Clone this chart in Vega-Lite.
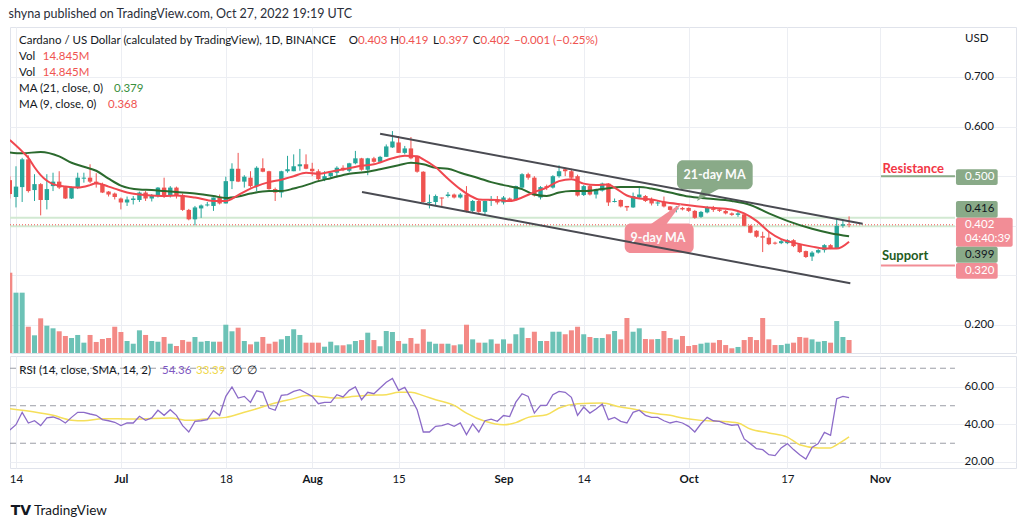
{
"$schema": "https://vega.github.io/schema/vega-lite/v6.json",
"background": "white",
"padding": {"left": 8, "top": 8, "right": 10, "bottom": 4},
"title": {"text": "shyna published on TradingView.com, Oct 27, 2022 19:19 UTC", "anchor": "start", "fontSize": 12.5, "fontWeight": "normal", "color": "#2a2e39", "offset": 6},
"spacing": 1,
"config": {"font": "Lato", "view": {"stroke": "#e0e3eb"}},
"datasets": {
"candles": [
{"d":"2022-06-13","o":0.492,"h":0.5,"l":0.455,"c":0.464,"v":91.7},
{"d":"2022-06-14","o":0.458,"h":0.52,"l":0.437,"c":0.479,"v":68.9},
{"d":"2022-06-15","o":0.478,"h":0.537,"l":0.448,"c":0.534,"v":68.9},
{"d":"2022-06-16","o":0.534,"h":0.542,"l":0.467,"c":0.47,"v":30.0},
{"d":"2022-06-17","o":0.472,"h":0.504,"l":0.45,"c":0.484,"v":20.2},
{"d":"2022-06-18","o":0.484,"h":0.486,"l":0.421,"c":0.452,"v":39.6},
{"d":"2022-06-19","o":0.452,"h":0.504,"l":0.433,"c":0.474,"v":31.2},
{"d":"2022-06-20","o":0.48,"h":0.507,"l":0.47,"c":0.489,"v":28.2},
{"d":"2022-06-21","o":0.489,"h":0.51,"l":0.474,"c":0.477,"v":24.8},
{"d":"2022-06-22","o":0.478,"h":0.479,"l":0.454,"c":0.455,"v":19.4},
{"d":"2022-06-23","o":0.455,"h":0.479,"l":0.454,"c":0.478,"v":17.1},
{"d":"2022-06-24","o":0.477,"h":0.507,"l":0.474,"c":0.497,"v":20.6},
{"d":"2022-06-25","o":0.495,"h":0.507,"l":0.487,"c":0.497,"v":11.8},
{"d":"2022-06-26","o":0.497,"h":0.524,"l":0.486,"c":0.489,"v":20.6},
{"d":"2022-06-27","o":0.489,"h":0.506,"l":0.477,"c":0.484,"v":12.6},
{"d":"2022-06-28","o":0.484,"h":0.487,"l":0.466,"c":0.467,"v":16.0},
{"d":"2022-06-29","o":0.469,"h":0.47,"l":0.459,"c":0.463,"v":17.1},
{"d":"2022-06-30","o":0.465,"h":0.467,"l":0.453,"c":0.458,"v":30.0},
{"d":"2022-07-01","o":0.455,"h":0.457,"l":0.433,"c":0.447,"v":24.0},
{"d":"2022-07-02","o":0.447,"h":0.459,"l":0.44,"c":0.453,"v":13.7},
{"d":"2022-07-03","o":0.452,"h":0.46,"l":0.443,"c":0.455,"v":10.6},
{"d":"2022-07-04","o":0.452,"h":0.469,"l":0.448,"c":0.467,"v":25.9},
{"d":"2022-07-05","o":0.467,"h":0.47,"l":0.45,"c":0.455,"v":20.6},
{"d":"2022-07-06","o":0.455,"h":0.464,"l":0.449,"c":0.462,"v":13.7},
{"d":"2022-07-07","o":0.46,"h":0.478,"l":0.457,"c":0.477,"v":12.9},
{"d":"2022-07-08","o":0.477,"h":0.497,"l":0.456,"c":0.46,"v":18.3},
{"d":"2022-07-09","o":0.46,"h":0.48,"l":0.457,"c":0.477,"v":10.6},
{"d":"2022-07-10","o":0.477,"h":0.479,"l":0.455,"c":0.46,"v":8.0},
{"d":"2022-07-11","o":0.462,"h":0.465,"l":0.43,"c":0.432,"v":14.8},
{"d":"2022-07-12","o":0.432,"h":0.434,"l":0.411,"c":0.413,"v":12.9},
{"d":"2022-07-13","o":0.413,"h":0.44,"l":0.401,"c":0.437,"v":18.3},
{"d":"2022-07-14","o":0.435,"h":0.443,"l":0.416,"c":0.441,"v":12.9},
{"d":"2022-07-15","o":0.441,"h":0.448,"l":0.439,"c":0.443,"v":13.7},
{"d":"2022-07-16","o":0.44,"h":0.457,"l":0.43,"c":0.457,"v":12.9},
{"d":"2022-07-17","o":0.457,"h":0.463,"l":0.443,"c":0.445,"v":12.9},
{"d":"2022-07-18","o":0.445,"h":0.499,"l":0.445,"c":0.49,"v":32.3},
{"d":"2022-07-19","o":0.49,"h":0.526,"l":0.474,"c":0.515,"v":24.8},
{"d":"2022-07-20","o":0.515,"h":0.547,"l":0.488,"c":0.489,"v":28.9},
{"d":"2022-07-21","o":0.489,"h":0.502,"l":0.477,"c":0.499,"v":13.7},
{"d":"2022-07-22","o":0.497,"h":0.51,"l":0.477,"c":0.48,"v":9.9},
{"d":"2022-07-23","o":0.48,"h":0.52,"l":0.47,"c":0.517,"v":12.9},
{"d":"2022-07-24","o":0.516,"h":0.536,"l":0.508,"c":0.509,"v":18.3},
{"d":"2022-07-25","o":0.51,"h":0.511,"l":0.473,"c":0.474,"v":10.6},
{"d":"2022-07-26","o":0.474,"h":0.477,"l":0.45,"c":0.467,"v":12.9},
{"d":"2022-07-27","o":0.467,"h":0.511,"l":0.457,"c":0.51,"v":15.6},
{"d":"2022-07-28","o":0.51,"h":0.541,"l":0.507,"c":0.514,"v":19.4},
{"d":"2022-07-29","o":0.51,"h":0.544,"l":0.51,"c":0.52,"v":27.1},
{"d":"2022-07-30","o":0.52,"h":0.555,"l":0.511,"c":0.524,"v":20.6},
{"d":"2022-07-31","o":0.524,"h":0.544,"l":0.514,"c":0.515,"v":11.8},
{"d":"2022-08-01","o":0.515,"h":0.527,"l":0.5,"c":0.51,"v":11.8},
{"d":"2022-08-02","o":0.51,"h":0.514,"l":0.49,"c":0.494,"v":11.8},
{"d":"2022-08-03","o":0.494,"h":0.51,"l":0.49,"c":0.5,"v":7.2},
{"d":"2022-08-04","o":0.5,"h":0.51,"l":0.497,"c":0.507,"v":12.9},
{"d":"2022-08-05","o":0.507,"h":0.52,"l":0.497,"c":0.517,"v":8.8},
{"d":"2022-08-06","o":0.517,"h":0.522,"l":0.51,"c":0.512,"v":8.8},
{"d":"2022-08-07","o":0.511,"h":0.527,"l":0.508,"c":0.526,"v":9.9},
{"d":"2022-08-08","o":0.526,"h":0.551,"l":0.524,"c":0.536,"v":13.7},
{"d":"2022-08-09","o":0.536,"h":0.537,"l":0.511,"c":0.513,"v":14.8},
{"d":"2022-08-10","o":0.513,"h":0.537,"l":0.502,"c":0.536,"v":23.2},
{"d":"2022-08-11","o":0.536,"h":0.539,"l":0.527,"c":0.529,"v":14.8},
{"d":"2022-08-12","o":0.529,"h":0.541,"l":0.527,"c":0.539,"v":7.7},
{"d":"2022-08-13","o":0.539,"h":0.564,"l":0.539,"c":0.56,"v":25.1},
{"d":"2022-08-14","o":0.558,"h":0.591,"l":0.557,"c":0.57,"v":24.0},
{"d":"2022-08-15","o":0.568,"h":0.581,"l":0.547,"c":0.547,"v":13.7},
{"d":"2022-08-16","o":0.547,"h":0.561,"l":0.544,"c":0.556,"v":10.6},
{"d":"2022-08-17","o":0.556,"h":0.579,"l":0.534,"c":0.536,"v":17.1},
{"d":"2022-08-18","o":0.539,"h":0.541,"l":0.507,"c":0.509,"v":10.6},
{"d":"2022-08-19","o":0.509,"h":0.51,"l":0.447,"c":0.448,"v":27.1},
{"d":"2022-08-20","o":0.446,"h":0.463,"l":0.435,"c":0.448,"v":12.9},
{"d":"2022-08-21","o":0.448,"h":0.463,"l":0.44,"c":0.46,"v":10.6},
{"d":"2022-08-22","o":0.457,"h":0.457,"l":0.44,"c":0.455,"v":10.6},
{"d":"2022-08-23","o":0.46,"h":0.468,"l":0.457,"c":0.463,"v":10.6},
{"d":"2022-08-24","o":0.463,"h":0.465,"l":0.455,"c":0.457,"v":8.8},
{"d":"2022-08-25","o":0.457,"h":0.466,"l":0.455,"c":0.463,"v":9.9},
{"d":"2022-08-26","o":0.463,"h":0.48,"l":0.427,"c":0.43,"v":32.3},
{"d":"2022-08-27","o":0.43,"h":0.452,"l":0.428,"c":0.45,"v":15.6},
{"d":"2022-08-28","o":0.45,"h":0.452,"l":0.426,"c":0.428,"v":11.8},
{"d":"2022-08-29","o":0.428,"h":0.451,"l":0.423,"c":0.45,"v":11.8},
{"d":"2022-08-30","o":0.45,"h":0.46,"l":0.44,"c":0.452,"v":15.6},
{"d":"2022-08-31","o":0.453,"h":0.46,"l":0.443,"c":0.447,"v":10.6},
{"d":"2022-09-01","o":0.447,"h":0.46,"l":0.443,"c":0.457,"v":15.6},
{"d":"2022-09-02","o":0.455,"h":0.457,"l":0.449,"c":0.452,"v":10.6},
{"d":"2022-09-03","o":0.452,"h":0.481,"l":0.451,"c":0.48,"v":21.4},
{"d":"2022-09-04","o":0.477,"h":0.506,"l":0.474,"c":0.504,"v":28.9},
{"d":"2022-09-05","o":0.504,"h":0.507,"l":0.493,"c":0.497,"v":17.1},
{"d":"2022-09-06","o":0.497,"h":0.5,"l":0.459,"c":0.461,"v":24.3},
{"d":"2022-09-07","o":0.457,"h":0.48,"l":0.453,"c":0.478,"v":13.7},
{"d":"2022-09-08","o":0.48,"h":0.483,"l":0.472,"c":0.477,"v":13.7},
{"d":"2022-09-09","o":0.477,"h":0.502,"l":0.475,"c":0.5,"v":24.3},
{"d":"2022-09-10","o":0.5,"h":0.522,"l":0.497,"c":0.51,"v":24.3},
{"d":"2022-09-11","o":0.514,"h":0.517,"l":0.5,"c":0.51,"v":21.4},
{"d":"2022-09-12","o":0.51,"h":0.515,"l":0.495,"c":0.497,"v":25.9},
{"d":"2022-09-13","o":0.5,"h":0.503,"l":0.459,"c":0.461,"v":30.0},
{"d":"2022-09-14","o":0.462,"h":0.482,"l":0.46,"c":0.48,"v":21.4},
{"d":"2022-09-15","o":0.48,"h":0.482,"l":0.461,"c":0.463,"v":18.3},
{"d":"2022-09-16","o":0.463,"h":0.475,"l":0.455,"c":0.474,"v":17.1},
{"d":"2022-09-17","o":0.471,"h":0.487,"l":0.469,"c":0.485,"v":17.1},
{"d":"2022-09-18","o":0.485,"h":0.486,"l":0.44,"c":0.447,"v":21.4},
{"d":"2022-09-19","o":0.448,"h":0.455,"l":0.447,"c":0.45,"v":25.1},
{"d":"2022-09-20","o":0.452,"h":0.453,"l":0.437,"c":0.439,"v":15.6},
{"d":"2022-09-21","o":0.44,"h":0.44,"l":0.43,"c":0.437,"v":40.0},
{"d":"2022-09-22","o":0.437,"h":0.467,"l":0.436,"c":0.46,"v":24.3},
{"d":"2022-09-23","o":0.457,"h":0.478,"l":0.455,"c":0.463,"v":28.2},
{"d":"2022-09-24","o":0.46,"h":0.462,"l":0.448,"c":0.45,"v":16.0},
{"d":"2022-09-25","o":0.452,"h":0.457,"l":0.441,"c":0.445,"v":15.6},
{"d":"2022-09-26","o":0.445,"h":0.45,"l":0.44,"c":0.447,"v":16.0},
{"d":"2022-09-27","o":0.448,"h":0.459,"l":0.437,"c":0.439,"v":25.1},
{"d":"2022-09-28","o":0.439,"h":0.44,"l":0.428,"c":0.432,"v":17.1},
{"d":"2022-09-29","o":0.433,"h":0.44,"l":0.427,"c":0.436,"v":15.4},
{"d":"2022-09-30","o":0.436,"h":0.438,"l":0.431,"c":0.433,"v":19.4},
{"d":"2022-10-01","o":0.436,"h":0.437,"l":0.428,"c":0.43,"v":8.0},
{"d":"2022-10-02","o":0.43,"h":0.432,"l":0.414,"c":0.416,"v":9.1},
{"d":"2022-10-03","o":0.418,"h":0.43,"l":0.416,"c":0.428,"v":10.6},
{"d":"2022-10-04","o":0.427,"h":0.44,"l":0.425,"c":0.437,"v":11.8},
{"d":"2022-10-05","o":0.435,"h":0.44,"l":0.428,"c":0.432,"v":11.8},
{"d":"2022-10-06","o":0.433,"h":0.436,"l":0.428,"c":0.43,"v":14.8},
{"d":"2022-10-07","o":0.43,"h":0.432,"l":0.423,"c":0.425,"v":9.1},
{"d":"2022-10-08","o":0.425,"h":0.427,"l":0.42,"c":0.422,"v":5.4},
{"d":"2022-10-09","o":0.422,"h":0.428,"l":0.418,"c":0.425,"v":6.9},
{"d":"2022-10-10","o":0.423,"h":0.425,"l":0.399,"c":0.4,"v":14.8},
{"d":"2022-10-11","o":0.4,"h":0.402,"l":0.385,"c":0.386,"v":18.3},
{"d":"2022-10-12","o":0.39,"h":0.391,"l":0.376,"c":0.378,"v":14.8},
{"d":"2022-10-13","o":0.379,"h":0.388,"l":0.347,"c":0.376,"v":40.0},
{"d":"2022-10-14","o":0.376,"h":0.388,"l":0.361,"c":0.363,"v":15.6},
{"d":"2022-10-15","o":0.366,"h":0.368,"l":0.362,"c":0.364,"v":9.1},
{"d":"2022-10-16","o":0.365,"h":0.373,"l":0.363,"c":0.369,"v":9.1},
{"d":"2022-10-17","o":0.365,"h":0.373,"l":0.363,"c":0.371,"v":10.6},
{"d":"2022-10-18","o":0.371,"h":0.373,"l":0.357,"c":0.359,"v":11.8},
{"d":"2022-10-19","o":0.363,"h":0.364,"l":0.345,"c":0.347,"v":18.3},
{"d":"2022-10-20","o":0.349,"h":0.35,"l":0.335,"c":0.337,"v":17.5},
{"d":"2022-10-21","o":0.338,"h":0.349,"l":0.329,"c":0.346,"v":15.6},
{"d":"2022-10-22","o":0.346,"h":0.353,"l":0.344,"c":0.351,"v":12.9},
{"d":"2022-10-23","o":0.351,"h":0.363,"l":0.346,"c":0.361,"v":13.7},
{"d":"2022-10-24","o":0.361,"h":0.363,"l":0.353,"c":0.355,"v":11.8},
{"d":"2022-10-25","o":0.355,"h":0.413,"l":0.354,"c":0.4,"v":36.5},
{"d":"2022-10-26","o":0.4,"h":0.412,"l":0.396,"c":0.403,"v":18.3},
{"d":"2022-10-27","o":0.403,"h":0.419,"l":0.397,"c":0.402,"v":14.845}
],
"ma9": [
{"d":"2022-06-13","p":0.573},{"d":"2022-06-15","p":0.55},{"d":"2022-06-16","p":0.537},{"d":"2022-06-17","p":0.518},{"d":"2022-06-18","p":0.502},{"d":"2022-06-20","p":0.484},{"d":"2022-06-22","p":0.479},{"d":"2022-06-24","p":0.477},{"d":"2022-06-26","p":0.482},{"d":"2022-06-27","p":0.486},{"d":"2022-06-29","p":0.479},{"d":"2022-06-30","p":0.475},{"d":"2022-07-02","p":0.467},{"d":"2022-07-04","p":0.463},{"d":"2022-07-06","p":0.461},{"d":"2022-07-08","p":0.46},{"d":"2022-07-10","p":0.461},{"d":"2022-07-13","p":0.457},{"d":"2022-07-16","p":0.45},{"d":"2022-07-18","p":0.45},{"d":"2022-07-20","p":0.462},{"d":"2022-07-22","p":0.475},{"d":"2022-07-25","p":0.488},{"d":"2022-07-27","p":0.493},{"d":"2022-07-29","p":0.5},{"d":"2022-07-31","p":0.507},{"d":"2022-08-02","p":0.505},{"d":"2022-08-04","p":0.509},{"d":"2022-08-07","p":0.516},{"d":"2022-08-09","p":0.521},{"d":"2022-08-11","p":0.524},{"d":"2022-08-14","p":0.536},{"d":"2022-08-16","p":0.541},{"d":"2022-08-18","p":0.54},{"d":"2022-08-19","p":0.534},{"d":"2022-08-21","p":0.518},{"d":"2022-08-23","p":0.495},{"d":"2022-08-25","p":0.474},{"d":"2022-08-27","p":0.458},{"d":"2022-08-28","p":0.453},{"d":"2022-08-31","p":0.452},{"d":"2022-09-02","p":0.45},{"d":"2022-09-04","p":0.457},{"d":"2022-09-06","p":0.468},{"d":"2022-09-08","p":0.477},{"d":"2022-09-10","p":0.49},{"d":"2022-09-12","p":0.494},{"d":"2022-09-14","p":0.485},{"d":"2022-09-16","p":0.482},{"d":"2022-09-18","p":0.483},{"d":"2022-09-19","p":0.477},{"d":"2022-09-21","p":0.461},{"d":"2022-09-23","p":0.455},{"d":"2022-09-25","p":0.453},{"d":"2022-09-27","p":0.448},{"d":"2022-09-30","p":0.443},{"d":"2022-10-02","p":0.44},{"d":"2022-10-04","p":0.437},{"d":"2022-10-08","p":0.433},{"d":"2022-10-10","p":0.425},{"d":"2022-10-12","p":0.41},{"d":"2022-10-14","p":0.388},{"d":"2022-10-16","p":0.373},{"d":"2022-10-18","p":0.366},{"d":"2022-10-21","p":0.358},{"d":"2022-10-23","p":0.354},{"d":"2022-10-25","p":0.354},{"d":"2022-10-27","p":0.368}
],
"ma21": [
{"d":"2022-06-13","p":0.548},{"d":"2022-06-15","p":0.546},{"d":"2022-06-18","p":0.549},{"d":"2022-06-21","p":0.54},{"d":"2022-06-23","p":0.527},{"d":"2022-06-25","p":0.519},{"d":"2022-06-27","p":0.511},{"d":"2022-06-29","p":0.495},{"d":"2022-07-01","p":0.481},{"d":"2022-07-04","p":0.473},{"d":"2022-07-06","p":0.472},{"d":"2022-07-08","p":0.47},{"d":"2022-07-10","p":0.468},{"d":"2022-07-13","p":0.465},{"d":"2022-07-16","p":0.46},{"d":"2022-07-18","p":0.456},{"d":"2022-07-20","p":0.459},{"d":"2022-07-22","p":0.465},{"d":"2022-07-25","p":0.47},{"d":"2022-07-27","p":0.47},{"d":"2022-07-29","p":0.475},{"d":"2022-07-31","p":0.482},{"d":"2022-08-02","p":0.49},{"d":"2022-08-04","p":0.496},{"d":"2022-08-07","p":0.505},{"d":"2022-08-10","p":0.509},{"d":"2022-08-12","p":0.514},{"d":"2022-08-15","p":0.522},{"d":"2022-08-17","p":0.527},{"d":"2022-08-19","p":0.524},{"d":"2022-08-21","p":0.517},{"d":"2022-08-23","p":0.515},{"d":"2022-08-25","p":0.507},{"d":"2022-08-28","p":0.496},{"d":"2022-08-30","p":0.488},{"d":"2022-09-01","p":0.482},{"d":"2022-09-04","p":0.474},{"d":"2022-09-06","p":0.463},{"d":"2022-09-08","p":0.46},{"d":"2022-09-10","p":0.467},{"d":"2022-09-12","p":0.47},{"d":"2022-09-14","p":0.47},{"d":"2022-09-17","p":0.474},{"d":"2022-09-20","p":0.478},{"d":"2022-09-23","p":0.478},{"d":"2022-09-25","p":0.475},{"d":"2022-09-28","p":0.467},{"d":"2022-10-01","p":0.459},{"d":"2022-10-04","p":0.455},{"d":"2022-10-08","p":0.45},{"d":"2022-10-11","p":0.442},{"d":"2022-10-14","p":0.425},{"d":"2022-10-17","p":0.41},{"d":"2022-10-21","p":0.394},{"d":"2022-10-24","p":0.385},{"d":"2022-10-27","p":0.379}
],
"rsi": [
{"d":"2022-06-13","r":37.0},{"d":"2022-06-14","r":39.9},{"d":"2022-06-15","r":46.5},{"d":"2022-06-16","r":40.8},{"d":"2022-06-17","r":42.0},{"d":"2022-06-18","r":39.4},{"d":"2022-06-19","r":43.5},{"d":"2022-06-20","r":44.0},{"d":"2022-06-21","r":42.9},{"d":"2022-06-22","r":40.8},{"d":"2022-06-23","r":43.8},{"d":"2022-06-24","r":46.5},{"d":"2022-06-25","r":46.5},{"d":"2022-06-26","r":45.6},{"d":"2022-06-27","r":44.9},{"d":"2022-06-28","r":42.6},{"d":"2022-06-29","r":42.0},{"d":"2022-06-30","r":41.2},
{"d":"2022-07-01","r":39.4},{"d":"2022-07-02","r":40.8},{"d":"2022-07-03","r":40.8},{"d":"2022-07-04","r":44.4},{"d":"2022-07-05","r":42.2},{"d":"2022-07-06","r":43.5},{"d":"2022-07-07","r":47.6},{"d":"2022-07-08","r":44.9},{"d":"2022-07-09","r":47.9},{"d":"2022-07-10","r":44.9},{"d":"2022-07-11","r":39.4},{"d":"2022-07-12","r":36.0},{"d":"2022-07-13","r":41.7},{"d":"2022-07-14","r":42.0},{"d":"2022-07-15","r":42.6},{"d":"2022-07-16","r":47.4},{"d":"2022-07-17","r":44.9},{"d":"2022-07-18","r":55.0},{"d":"2022-07-19","r":60.0},{"d":"2022-07-20","r":54.1},{"d":"2022-07-21","r":55.0},{"d":"2022-07-22","r":51.8},{"d":"2022-07-23","r":58.0},{"d":"2022-07-24","r":57.2},{"d":"2022-07-25","r":48.8},{"d":"2022-07-26","r":47.6},{"d":"2022-07-27","r":55.5},{"d":"2022-07-28","r":55.9},{"d":"2022-07-29","r":57.7},{"d":"2022-07-30","r":58.6},{"d":"2022-07-31","r":56.8},
{"d":"2022-08-01","r":55.0},{"d":"2022-08-02","r":51.1},{"d":"2022-08-03","r":51.8},{"d":"2022-08-04","r":51.8},{"d":"2022-08-05","r":55.9},{"d":"2022-08-06","r":54.7},{"d":"2022-08-07","r":58.2},{"d":"2022-08-08","r":60.0},{"d":"2022-08-09","r":53.2},{"d":"2022-08-10","r":57.2},{"d":"2022-08-11","r":56.4},{"d":"2022-08-12","r":59.5},{"d":"2022-08-13","r":62.5},{"d":"2022-08-14","r":64.6},{"d":"2022-08-15","r":58.2},{"d":"2022-08-16","r":59.8},{"d":"2022-08-17","r":54.1},{"d":"2022-08-18","r":47.9},{"d":"2022-08-19","r":36.0},{"d":"2022-08-20","r":36.0},{"d":"2022-08-21","r":39.0},{"d":"2022-08-22","r":39.4},{"d":"2022-08-23","r":40.4},{"d":"2022-08-24","r":39.0},{"d":"2022-08-25","r":40.8},{"d":"2022-08-26","r":34.6},{"d":"2022-08-27","r":40.3},{"d":"2022-08-28","r":36.0},{"d":"2022-08-29","r":42.0},{"d":"2022-08-30","r":42.9},{"d":"2022-08-31","r":41.7},
{"d":"2022-09-01","r":44.8},{"d":"2022-09-02","r":44.2},{"d":"2022-09-03","r":51.9},{"d":"2022-09-04","r":56.4},{"d":"2022-09-05","r":55.0},{"d":"2022-09-06","r":46.1},{"d":"2022-09-07","r":50.2},{"d":"2022-09-08","r":50.2},{"d":"2022-09-09","r":55.9},{"d":"2022-09-10","r":57.7},{"d":"2022-09-11","r":57.2},{"d":"2022-09-12","r":54.5},{"d":"2022-09-13","r":44.9},{"d":"2022-09-14","r":49.3},{"d":"2022-09-15","r":46.1},{"d":"2022-09-16","r":48.3},{"d":"2022-09-17","r":50.9},{"d":"2022-09-18","r":42.6},{"d":"2022-09-19","r":43.8},{"d":"2022-09-20","r":41.7},{"d":"2022-09-21","r":40.8},{"d":"2022-09-22","r":46.5},{"d":"2022-09-23","r":47.6},{"d":"2022-09-24","r":44.9},{"d":"2022-09-25","r":43.8},{"d":"2022-09-26","r":43.8},{"d":"2022-09-27","r":42.0},{"d":"2022-09-28","r":40.8},{"d":"2022-09-29","r":41.7},{"d":"2022-09-30","r":40.8},
{"d":"2022-10-01","r":39.0},{"d":"2022-10-02","r":36.0},{"d":"2022-10-03","r":40.4},{"d":"2022-10-04","r":43.8},{"d":"2022-10-05","r":42.0},{"d":"2022-10-06","r":41.7},{"d":"2022-10-07","r":40.3},{"d":"2022-10-08","r":39.6},{"d":"2022-10-09","r":39.9},{"d":"2022-10-10","r":32.3},{"d":"2022-10-11","r":29.8},{"d":"2022-10-12","r":27.1},{"d":"2022-10-13","r":26.6},{"d":"2022-10-14","r":23.9},{"d":"2022-10-15","r":23.4},{"d":"2022-10-16","r":27.5},{"d":"2022-10-17","r":29.8},{"d":"2022-10-18","r":26.6},{"d":"2022-10-19","r":23.9},{"d":"2022-10-20","r":21.6},{"d":"2022-10-21","r":27.8},{"d":"2022-10-22","r":29.8},{"d":"2022-10-23","r":35.8},{"d":"2022-10-24","r":34.2},{"d":"2022-10-25","r":53.8},{"d":"2022-10-26","r":55.0},{"d":"2022-10-27","r":54.36}
],
"rsisma": [
{"d":"2022-06-13","r":48.4},{"d":"2022-06-17","r":46.7},{"d":"2022-06-20","r":44.9},{"d":"2022-06-23","r":42.3},{"d":"2022-06-25","r":42.0},{"d":"2022-06-28","r":43.1},{"d":"2022-07-03","r":42.9},{"d":"2022-07-09","r":43.5},{"d":"2022-07-12","r":42.2},{"d":"2022-07-15","r":43.1},{"d":"2022-07-18","r":43.8},{"d":"2022-07-21","r":46.5},{"d":"2022-07-23","r":48.4},{"d":"2022-07-26","r":51.5},{"d":"2022-07-29","r":53.8},{"d":"2022-07-31","r":55.4},{"d":"2022-08-05","r":54.1},{"d":"2022-08-07","r":54.7},{"d":"2022-08-10","r":55.6},{"d":"2022-08-13","r":55.9},{"d":"2022-08-15","r":57.2},{"d":"2022-08-17","r":57.2},{"d":"2022-08-19","r":55.4},{"d":"2022-08-21","r":53.2},{"d":"2022-08-24","r":50.2},{"d":"2022-08-26","r":46.1},{"d":"2022-08-29","r":41.7},{"d":"2022-09-01","r":39.8},{"d":"2022-09-03","r":41.0},{"d":"2022-09-05","r":43.8},{"d":"2022-09-08","r":45.2},{"d":"2022-09-10","r":48.8},{"d":"2022-09-13","r":51.1},{"d":"2022-09-17","r":51.5},{"d":"2022-09-20","r":49.3},{"d":"2022-09-22","r":48.3},{"d":"2022-09-25","r":46.1},{"d":"2022-09-28","r":44.9},{"d":"2022-09-30","r":43.5},{"d":"2022-10-03","r":42.2},{"d":"2022-10-06","r":41.7},{"d":"2022-10-09","r":40.8},{"d":"2022-10-11","r":37.6},{"d":"2022-10-14","r":35.5},{"d":"2022-10-17","r":33.3},{"d":"2022-10-19","r":29.2},{"d":"2022-10-22","r":27.5},{"d":"2022-10-24","r":27.5},{"d":"2022-10-25","r":29.2},{"d":"2022-10-27","r":33.39}
]
},
"vconcat": [
{
"width": 1006, "height": 326,
"layer": [
{
"data": {"name": "candles"},
"mark": {"type": "rule", "strokeWidth": 5, "clip": true},
"encoding": {
"x": {"field": "d", "type": "temporal", "title": null,
"scale": {"type": "utc", "nice": false, "domain": [{"year":2022,"month":6,"date":13,"hours":0,"minutes":40,"utc":true},{"year":2022,"month":11,"date":23,"hours":1,"minutes":12,"utc":true}]},
"axis": {"values": [{"year":2022,"month":6,"date":14,"utc":true},{"year":2022,"month":7,"date":1,"utc":true},{"year":2022,"month":7,"date":18,"utc":true},{"year":2022,"month":8,"date":1,"utc":true},{"year":2022,"month":8,"date":15,"utc":true},{"year":2022,"month":9,"date":1,"utc":true},{"year":2022,"month":9,"date":14,"utc":true},{"year":2022,"month":10,"date":1,"utc":true},{"year":2022,"month":10,"date":17,"utc":true},{"year":2022,"month":11,"date":1,"utc":true}],
"labels": false, "ticks": false, "domain": false, "grid": true, "gridColor": "#eceef3", "title": null}},
"y": {"field": "v", "type": "quantitative", "scale": {"domain": [0, 372.3], "nice": false, "zero": true}, "axis": null},
"y2": {"datum": 0},
"color": {"condition": {"test": "datum.c >= datum.o", "value": "#6cc2b6"}, "value": "#f38a86"}
}
},
{
"layer": [
{
"data": {"values": [{"lv": 0.416}, {"lv": 0.399}]},
"mark": {"type": "rule", "color": "#d2e9d2", "strokeWidth": 2},
"encoding": {
"x": {"datum": {"year":2022,"month":6,"date":13,"hours":0,"minutes":40,"utc":true}, "type": "temporal"},
"x2": {"datum": {"year":2022,"month":11,"date":13,"hours":3,"minutes":50,"utc":true}},
"y": {"field": "lv", "type": "quantitative", "title": null,
"scale": {"domain": [0.1435, 0.8008], "nice": false, "zero": false},
"axis": {"orient": "right", "offset": -61, "values": [0.2, 0.3, 0.4, 0.5, 0.6, 0.7], "labelExpr": "(datum.value > 0.25 && datum.value < 0.55) ? '' : format(datum.value, '.3f')", "grid": true, "gridColor": "#eceef3", "domain": false, "ticks": false, "labelPadding": 9, "labelFontSize": 11.5, "labelColor": "#131722", "labelFont": "Lato", "title": null}}
}
},
{
"data": {"values": [{"lv": 0.402}]},
"mark": {"type": "rule", "color": "#ef5350", "strokeWidth": 1, "strokeDash": [1, 2]},
"encoding": {
"x": {"datum": {"year":2022,"month":6,"date":13,"hours":0,"minutes":40,"utc":true}, "type": "temporal"},
"x2": {"datum": {"year":2022,"month":11,"date":13,"hours":3,"minutes":50,"utc":true}},
"y": {"field": "lv", "type": "quantitative"}
}
},
{
"data": {"name": "candles"},
"mark": {"type": "rule", "strokeWidth": 1, "clip": true},
"encoding": {
"x": {"field": "d", "type": "temporal"},
"y": {"field": "l", "type": "quantitative"},
"y2": {"field": "h"},
"color": {"condition": {"test": "datum.c >= datum.o", "value": "#26a69a"}, "value": "#ef5350"}
}
},
{
"data": {"name": "candles"},
"mark": {"type": "rule", "strokeWidth": 4.4, "clip": true},
"encoding": {
"x": {"field": "d", "type": "temporal"},
"y": {"field": "o", "type": "quantitative"},
"y2": {"field": "c"},
"color": {"condition": {"test": "datum.c >= datum.o", "value": "#26a69a"}, "value": "#ef5350"}
}
},
{
"data": {"name": "ma21"},
"mark": {"type": "line", "color": "#2b6a2e", "strokeWidth": 2, "interpolate": "monotone", "clip": true},
"encoding": {"x": {"field": "d", "type": "temporal"}, "y": {"field": "p", "type": "quantitative"}}
},
{
"data": {"name": "ma9"},
"mark": {"type": "line", "color": "#f0474f", "strokeWidth": 2, "interpolate": "monotone", "clip": true},
"encoding": {"x": {"field": "d", "type": "temporal"}, "y": {"field": "p", "type": "quantitative"}}
},
{
"data": {"values": [
{"k": "21", "d": "2022-09-29T02:40:00Z", "d2": "2022-10-11T09:07:00Z", "p": 0.5321, "p2": 0.4736},
{"k": "9", "d": "2022-09-20T15:22:00Z", "d2": "2022-10-01T19:41:00Z", "p": 0.4046, "p2": 0.3452}]},
"mark": {"type": "rect", "cornerRadius": 6},
"encoding": {
"x": {"field": "d", "type": "temporal"}, "x2": {"field": "d2"},
"y": {"field": "p", "type": "quantitative"}, "y2": {"field": "p2"},
"color": {"field": "k", "type": "nominal", "scale": {"domain": ["21", "9"], "range": ["#89aa88", "#f28d96"]}, "legend": null}
}
},
{
"data": {"values": [
{"d": "2022-10-02T08:38:00Z", "p": 0.45, "p2": 0.45},
{"d": "2022-10-03T04:05:00Z", "p": 0.4745, "p2": 0.4554},
{"d": "2022-10-05T22:20:00Z", "p": 0.4745, "p2": 0.4745}]},
"mark": {"type": "area", "color": "#89aa88", "opacity": 1},
"encoding": {"x": {"field": "d", "type": "temporal"}, "y": {"field": "p", "type": "quantitative"}, "y2": {"field": "p2"}}
},
{
"data": {"values": [
{"d": "2022-09-24T17:46:00Z", "p": 0.402, "p2": 0.402},
{"d": "2022-09-27T07:55:00Z", "p": 0.4248, "p2": 0.402},
{"d": "2022-09-29T22:19:00Z", "p": 0.446, "p2": 0.446}]},
"mark": {"type": "area", "color": "#f28d96", "opacity": 1},
"encoding": {"x": {"field": "d", "type": "temporal"}, "y": {"field": "p", "type": "quantitative"}, "y2": {"field": "p2"}}
},
{
"data": {"values": [
{"d": "2022-08-12T00:00:00Z", "p": 0.5857, "d2": "2022-10-29T04:48:00Z", "p2": 0.4042},
{"d": "2022-08-09T01:41:00Z", "p": 0.4681, "d2": "2022-10-27T04:48:00Z", "p2": 0.284}]},
"mark": {"type": "rule", "color": "#4a4b52", "strokeWidth": 2},
"encoding": {"x": {"field": "d", "type": "temporal"}, "x2": {"field": "d2"}, "y": {"field": "p", "type": "quantitative"}, "y2": {"field": "p2"}}
},
{
"data": {"values": [{"k": "resistance", "p": 0.5}, {"k": "support", "p": 0.32}]},
"mark": {"type": "rule", "strokeWidth": 2},
"encoding": {
"x": {"datum": {"year":2022,"month":11,"date":1,"hours":4,"utc":true}, "type": "temporal"},
"x2": {"datum": {"year":2022,"month":11,"date":13,"hours":3,"minutes":50,"utc":true}},
"y": {"field": "p", "type": "quantitative"},
"color": {"field": "k", "type": "nominal", "scale": {"domain": ["resistance", "support"], "range": ["#1f5b22", "#f23645"]}, "legend": null}
}
},
{
"data": {"values": [{"d": "2022-11-01T10:20:00Z", "p": 0.5139, "t": "Resistance"}]},
"mark": {"type": "text", "align": "left", "baseline": "middle", "fontSize": 13, "fontWeight": "bold", "color": "#f23645"},
"encoding": {"x": {"field": "d", "type": "temporal"}, "y": {"field": "p", "type": "quantitative"}, "text": {"field": "t"}}
},
{
"data": {"values": [{"d": "2022-11-01T08:00:00Z", "p": 0.3391, "t": "Support"}]},
"mark": {"type": "text", "align": "left", "baseline": "middle", "fontSize": 13, "fontWeight": "bold", "color": "#1f5b22"},
"encoding": {"x": {"field": "d", "type": "temporal"}, "y": {"field": "p", "type": "quantitative"}, "text": {"field": "t"}}
},
{
"data": {"values": [
{"d": "2022-10-05T04:34:00Z", "p": 0.5024, "t": "21-day MA"},
{"d": "2022-09-26T00:43:00Z", "p": 0.3754, "t": "9-day MA"}]},
"mark": {"type": "text", "align": "center", "baseline": "middle", "fontSize": 12.5, "fontWeight": "bold", "color": "#fbfbfb"},
"encoding": {"x": {"field": "d", "type": "temporal"}, "y": {"field": "p", "type": "quantitative"}, "text": {"field": "t"}}
},
{
"data": {"values": [
{"d": "2022-06-14T11:40:00Z", "p": 0.7726, "t": "Cardano / US Dollar (calculated by TradingView), 1D, BINANCE"},
{"d": "2022-06-14T11:40:00Z", "p": 0.7403, "t": "Vol"},
{"d": "2022-06-14T11:40:00Z", "p": 0.7081, "t": "Vol"},
{"d": "2022-06-14T11:40:00Z", "p": 0.6752, "t": "MA (21, close, 0)"},
{"d": "2022-06-14T11:40:00Z", "p": 0.6435, "t": "MA (9, close, 0)"},
{"d": "2022-11-14T18:43:00Z", "p": 0.776, "t": "USD"}]},
"mark": {"type": "text", "align": "left", "baseline": "middle", "fontSize": 11.5, "color": "#131722"},
"encoding": {"x": {"field": "d", "type": "temporal"}, "y": {"field": "p", "type": "quantitative"}, "text": {"field": "t"}}
},
{
"data": {"values": [
{"d": "2022-08-08T10:05:00Z", "p": 0.7726, "t": "O"},
{"d": "2022-08-15T01:26:00Z", "p": 0.7726, "t": "H"},
{"d": "2022-08-21T13:12:00Z", "p": 0.7726, "t": "L"},
{"d": "2022-08-28T06:29:00Z", "p": 0.7726, "t": "C"}]},
"mark": {"type": "text", "align": "right", "baseline": "middle", "fontSize": 11.5, "color": "#131722"},
"encoding": {"x": {"field": "d", "type": "temporal"}, "y": {"field": "p", "type": "quantitative"}, "text": {"field": "t"}}
},
{
"data": {"values": [
{"d": "2022-08-08T10:05:00Z", "p": 0.7726, "t": "0.403"},
{"d": "2022-08-15T01:26:00Z", "p": 0.7726, "t": "0.419"},
{"d": "2022-08-21T13:12:00Z", "p": 0.7726, "t": "0.397"},
{"d": "2022-08-28T06:29:00Z", "p": 0.7726, "t": "0.402"},
{"d": "2022-09-02T16:48:00Z", "p": 0.7726, "t": "−0.001 (−0.25%)"},
{"d": "2022-06-18T07:55:00Z", "p": 0.7403, "t": "14.845M"},
{"d": "2022-06-18T07:55:00Z", "p": 0.7081, "t": "14.845M"},
{"d": "2022-06-28T21:50:00Z", "p": 0.6435, "t": "0.368"}]},
"mark": {"type": "text", "align": "left", "baseline": "middle", "fontSize": 11.5, "color": "#ef5350"},
"encoding": {"x": {"field": "d", "type": "temporal"}, "y": {"field": "p", "type": "quantitative"}, "text": {"field": "t"}}
},
{
"data": {"values": [{"d": "2022-06-29T21:07:00Z", "p": 0.6752, "t": "0.379"}]},
"mark": {"type": "text", "align": "left", "baseline": "middle", "fontSize": 11.5, "color": "#388e3c"},
"encoding": {"x": {"field": "d", "type": "temporal"}, "y": {"field": "p", "type": "quantitative"}, "text": {"field": "t"}}
},
{
"data": {"values": [
{"k": "resistance", "d": "2022-11-13T07:44:00Z", "d2": "2022-11-20T01:55:00Z", "p": 0.5139, "p2": 0.4823},
{"k": "high", "d": "2022-11-13T07:44:00Z", "d2": "2022-11-20T01:55:00Z", "p": 0.45, "p2": 0.4163},
{"k": "last", "d": "2022-11-13T07:44:00Z", "d2": "2022-11-22T12:14:00Z", "p": 0.4163, "p2": 0.3579},
{"k": "low", "d": "2022-11-13T07:44:00Z", "d2": "2022-11-20T01:55:00Z", "p": 0.3579, "p2": 0.3256},
{"k": "support", "d": "2022-11-13T07:44:00Z", "d2": "2022-11-20T01:55:00Z", "p": 0.325, "p2": 0.2933}]},
"mark": {"type": "rect", "cornerRadius": 2},
"encoding": {
"x": {"field": "d", "type": "temporal"}, "x2": {"field": "d2"},
"y": {"field": "p", "type": "quantitative"}, "y2": {"field": "p2"},
"color": {"field": "k", "type": "nominal", "scale": {"domain": ["resistance", "high", "last", "low", "support"], "range": ["#1f5b22", "#d8ecd6", "#ee5a57", "#d8ecd6", "#f23645"]}, "legend": null}
}
},
{
"data": {"values": [
{"d": "2022-11-14T18:43:00Z", "p": 0.498, "t": "0.500"},
{"d": "2022-11-14T18:43:00Z", "p": 0.4016, "t": "0.402"},
{"d": "2022-11-14T18:43:00Z", "p": 0.3728, "t": "04:40:39"},
{"d": "2022-11-14T18:43:00Z", "p": 0.3093, "t": "0.320"}]},
"mark": {"type": "text", "align": "left", "baseline": "middle", "fontSize": 11.5, "color": "#ffffff"},
"encoding": {"x": {"field": "d", "type": "temporal"}, "y": {"field": "p", "type": "quantitative"}, "text": {"field": "t"}}
},
{
"data": {"values": [
{"d": "2022-11-14T18:43:00Z", "p": 0.4333, "t": "0.416"},
{"d": "2022-11-14T18:43:00Z", "p": 0.3417, "t": "0.399"}]},
"mark": {"type": "text", "align": "left", "baseline": "middle", "fontSize": 11.5, "color": "#131722"},
"encoding": {"x": {"field": "d", "type": "temporal"}, "y": {"field": "p", "type": "quantitative"}, "text": {"field": "t"}}
}
]
}
],
"resolve": {"scale": {"y": "independent"}}
},
{
"width": 1006, "height": 112,
"layer": [
{
"mark": {"type": "rect", "color": "#7e57c2", "opacity": 0.09},
"encoding": {
"x": {"datum": {"year":2022,"month":6,"date":13,"hours":0,"minutes":40,"utc":true}, "type": "temporal", "title": null,
"scale": {"type": "utc", "nice": false, "domain": [{"year":2022,"month":6,"date":13,"hours":0,"minutes":40,"utc":true},{"year":2022,"month":11,"date":23,"hours":1,"minutes":12,"utc":true}]},
"axis": {"values": [{"year":2022,"month":6,"date":14,"utc":true},{"year":2022,"month":7,"date":1,"utc":true},{"year":2022,"month":7,"date":18,"utc":true},{"year":2022,"month":8,"date":1,"utc":true},{"year":2022,"month":8,"date":15,"utc":true},{"year":2022,"month":9,"date":1,"utc":true},{"year":2022,"month":9,"date":14,"utc":true},{"year":2022,"month":10,"date":1,"utc":true},{"year":2022,"month":10,"date":17,"utc":true},{"year":2022,"month":11,"date":1,"utc":true}],
"grid": true, "gridColor": "#eceef3", "domain": false, "ticks": false, "labelPadding": 5, "labelFontSize": 11.5, "labelColor": "#131722", "labelFont": "Lato", "labelFlush": false, "labelOverlap": false, "title": null,
"labelExpr": "utcdate(datum.value) == 1 ? utcFormat(datum.value, '%b') : utcFormat(datum.value, '%-d')",
"labelFontWeight": {"condition": {"test": "utcdate(datum.value) == 1", "value": "bold"}, "value": "normal"}}},
"x2": {"datum": {"year":2022,"month":11,"date":13,"hours":3,"minutes":50,"utc":true}},
"y": {"datum": 70, "type": "quantitative", "title": null,
"scale": {"domain": [16.8, 76.53], "nice": false, "zero": false},
"axis": {"orient": "right", "offset": -61, "values": [20, 40, 60], "format": ".2f", "grid": true, "gridColor": "#eceef3", "domain": false, "ticks": false, "labelPadding": 9, "labelFontSize": 11.5, "labelColor": "#131722", "labelFont": "Lato", "title": null}},
"y2": {"datum": 30}
}
},
{
"data": {"values": [{"level": 70}, {"level": 50}, {"level": 30}]},
"mark": {"type": "rule", "color": "#9b9ea6", "strokeWidth": 1, "strokeDash": [6, 4]},
"encoding": {
"x": {"datum": {"year":2022,"month":6,"date":13,"hours":0,"minutes":40,"utc":true}, "type": "temporal"},
"x2": {"datum": {"year":2022,"month":11,"date":13,"hours":3,"minutes":50,"utc":true}},
"y": {"field": "level", "type": "quantitative"}
}
},
{
"data": {"name": "rsisma"},
"mark": {"type": "line", "color": "#f5df5a", "strokeWidth": 1.5, "interpolate": "monotone", "clip": true},
"encoding": {"x": {"field": "d", "type": "temporal"}, "y": {"field": "r", "type": "quantitative"}}
},
{
"data": {"name": "rsi"},
"mark": {"type": "line", "color": "#8c6bc8", "strokeWidth": 1.3, "clip": true},
"encoding": {"x": {"field": "d", "type": "temporal"}, "y": {"field": "r", "type": "quantitative"}}
},
{
"data": {"values": [
{"d": "2022-06-14T12:50:00Z", "r": 68.4, "t": "RSI (14, close, SMA, 14, 2)"},
{"d": "2022-07-19T00:00:00Z", "r": 68.4, "t": "∅"},
{"d": "2022-07-21T10:19:00Z", "r": 68.4, "t": "∅"}]},
"mark": {"type": "text", "align": "left", "baseline": "middle", "fontSize": 11.5, "color": "#131722"},
"encoding": {"x": {"field": "d", "type": "temporal"}, "y": {"field": "r", "type": "quantitative"}, "text": {"field": "t"}}
},
{
"data": {"values": [{"d": "2022-07-07T15:50:00Z", "r": 68.4, "t": "54.36"}]},
"mark": {"type": "text", "align": "left", "baseline": "middle", "fontSize": 11.5, "color": "#7e57c2"},
"encoding": {"x": {"field": "d", "type": "temporal"}, "y": {"field": "r", "type": "quantitative"}, "text": {"field": "t"}}
},
{
"data": {"values": [{"d": "2022-07-13T04:05:00Z", "r": 68.4, "t": "33.39"}]},
"mark": {"type": "text", "align": "left", "baseline": "middle", "fontSize": 11.5, "color": "#f0d84a"},
"encoding": {"x": {"field": "d", "type": "temporal"}, "y": {"field": "r", "type": "quantitative"}, "text": {"field": "t"}}
},
{
"data": {"values": [{"d": "2022-06-14T19:27:00Z", "r": -6.1, "t": "TV"}]},
"mark": {"type": "text", "align": "center", "baseline": "middle", "fontSize": 14, "fontWeight": "bold", "font": "DejaVu Sans", "color": "#131722", "clip": false},
"encoding": {"x": {"field": "d", "type": "temporal"}, "y": {"field": "r", "type": "quantitative"}, "text": {"field": "t"}}
},
{
"data": {"values": [{"d": "2022-06-16T22:00:00Z", "r": -6.1, "t": "TradingView"}]},
"mark": {"type": "text", "align": "left", "baseline": "middle", "fontSize": 13.5, "color": "#131722", "clip": false},
"encoding": {"x": {"field": "d", "type": "temporal"}, "y": {"field": "r", "type": "quantitative"}, "text": {"field": "t"}}
}
]
}
]
}
